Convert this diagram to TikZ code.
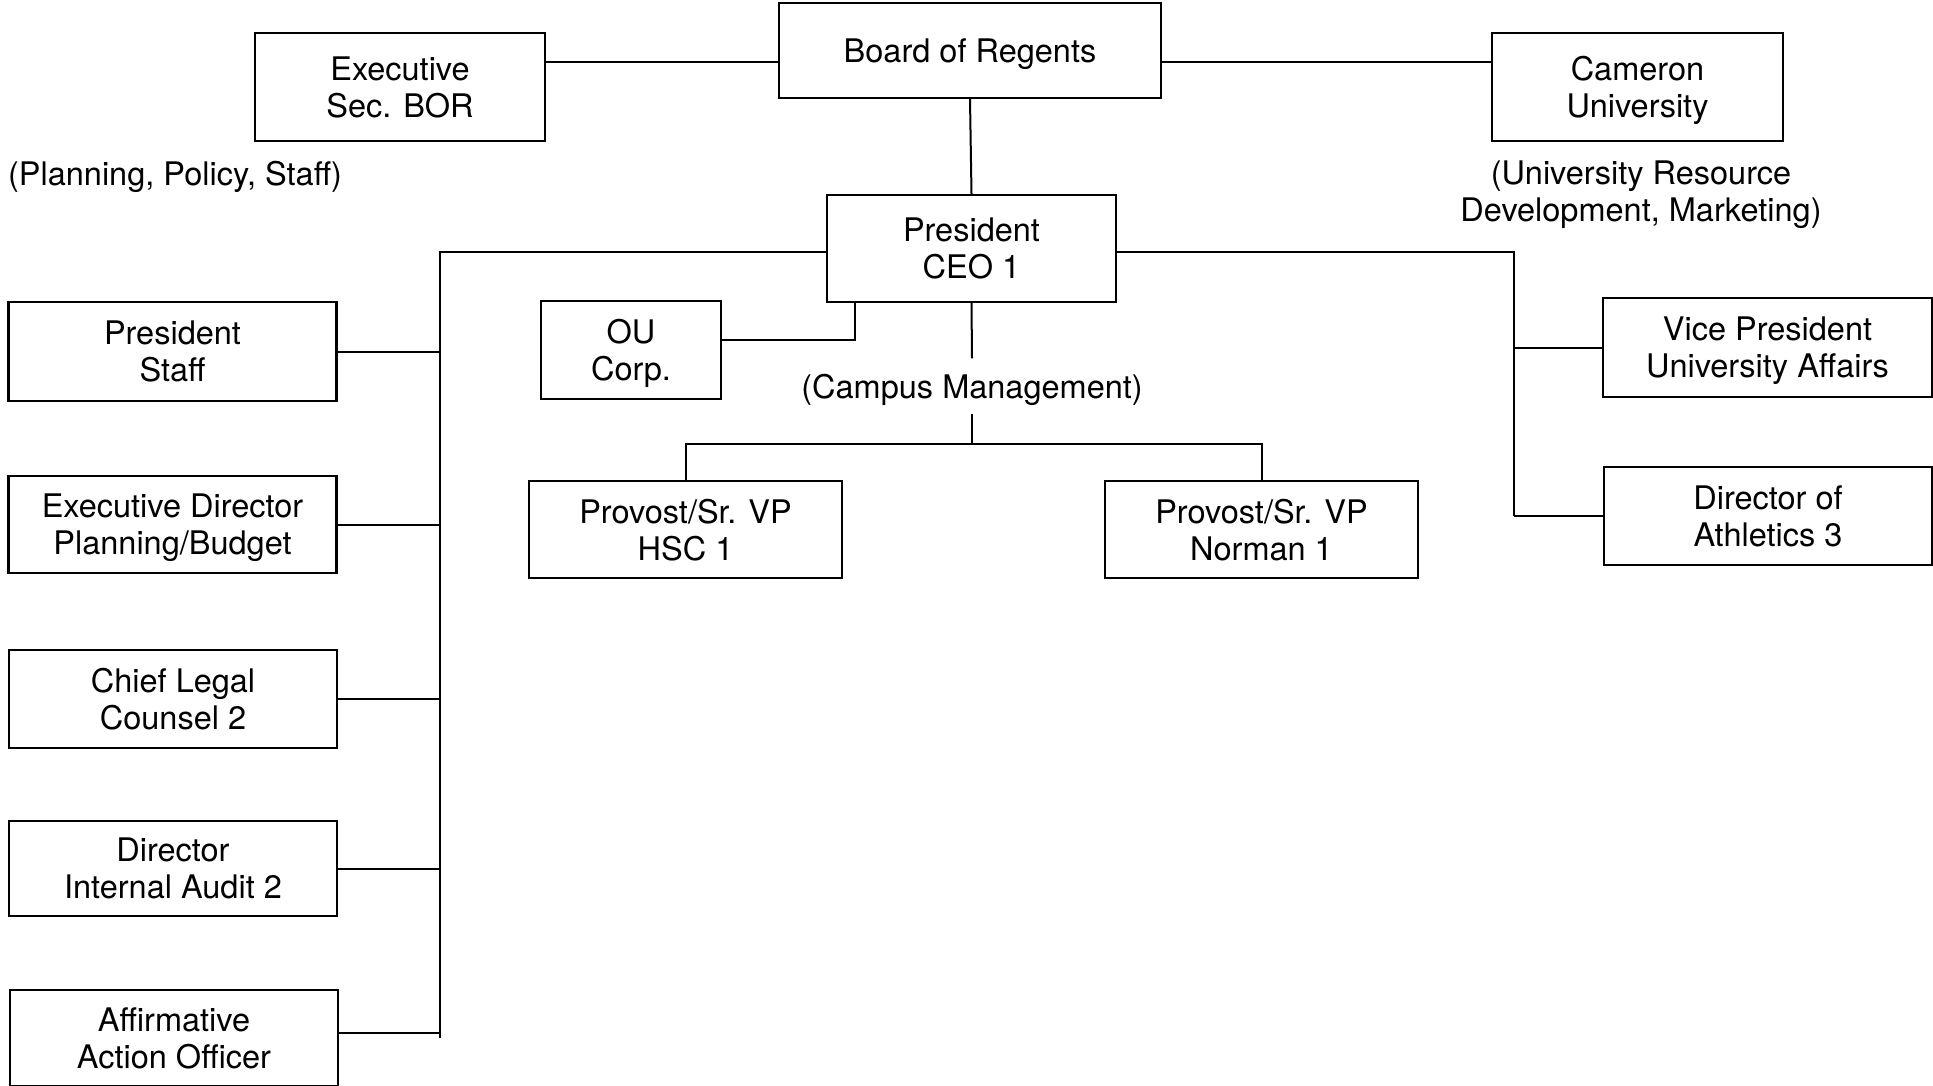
\documentclass[tikz,border=0pt]{standalone}
\usepackage{fontspec}
\setmainfont{TeX Gyre Heros}
\begin{document}
\begin{tikzpicture}[x=1pt,y=-1pt,
  orgbox/.style={draw, line width=2.2pt, inner sep=0pt, align=center, text depth=0pt, font=\fontsize{32.5}{37}\selectfont},
  lbl/.style={inner sep=0pt, align=center, text depth=0pt, font=\fontsize{32.5}{37}\selectfont},
  conn/.style={line width=2pt}]
\useasboundingbox (0,0) rectangle (1933,1086);
% top row
\node[orgbox, minimum width=382pt, minimum height=95pt] (bor) at (970,50.5) {Board of Regents};
\node[orgbox, minimum width=290pt, minimum height=108pt] (exec) at (400,87) {Executive\\Sec. BOR};
\node[orgbox, minimum width=291pt, minimum height=108pt] (cam) at (1637.5,87) {Cameron\\University};
\node[lbl] (plan) at (175,173) {(Planning, Policy, Staff)};
\node[lbl] (urd) at (1641,191) {(University Resource\\Development, Marketing)};
% president
\node[orgbox, minimum width=289pt, minimum height=107pt] (pres) at (971.5,248.5) {President\\CEO 1};
% left column
\node[orgbox, minimum width=328pt, minimum height=99pt] (ps) at (172.5,351.5) {President\\Staff};
\node[orgbox, minimum width=328pt, minimum height=97pt] (ed) at (172.5,524.5) {Executive Director\\Planning/Budget};
\node[orgbox, minimum width=328pt, minimum height=98pt] (cl) at (173,699) {Chief Legal\\Counsel 2};
\node[orgbox, minimum width=328pt, minimum height=95pt] (dia) at (173,868.5) {Director\\Internal Audit 2};
\node[orgbox, minimum width=328pt, minimum height=96pt] (aa) at (174,1038) {Affirmative\\Action Officer};
% middle
\node[orgbox, minimum width=180pt, minimum height=98pt] (ou) at (631,350) {OU\\Corp.};
\node[lbl, minimum height=55pt] (cm) at (972,386) {(Campus Management)};
\node[orgbox, minimum width=313pt, minimum height=97pt] (hsc) at (685.5,529.5) {Provost/Sr. VP\\HSC 1};
\node[orgbox, minimum width=313pt, minimum height=97pt] (nor) at (1261.5,529.5) {Provost/Sr. VP\\Norman 1};
% right column
\node[orgbox, minimum width=329pt, minimum height=99pt] (vp) at (1767.5,347.5) {Vice President\\University Affairs};
\node[orgbox, minimum width=328pt, minimum height=98pt] (ath) at (1768,516) {Director of\\Athletics 3};
% connectors
\coordinate (j1) at ([yshift=-30pt]exec.north east);
\draw[conn] (j1) -- (j1 -| bor.west);
\draw[conn] (j1 -| bor.east) -- (j1 -| cam.west);
\draw[conn] (bor.south) -- (pres.north);
\coordinate (busL) at (440,252);
\coordinate (busR) at (1514,252);
\draw[conn] (busL -| pres.west) -- (busL) -- (busL |- aa.east);
\draw[conn] (busR -| pres.east) -- (busR) -- (busR |- ath.west);
\draw[conn] (ps.east) -- (ps.east -| busL);
\draw[conn] (ed.east) -- (ed.east -| busL);
\draw[conn] (cl.east) -- (cl.east -| busL);
\draw[conn] (dia.east) -- (dia.east -| busL);
\coordinate (aaj) at ([yshift=5pt]aa.east);
\draw[conn] (aaj) -- (aaj -| busL);
\draw[conn] (vp.west) -- (vp.west -| busR);
\draw[conn] (ath.west) -- (ath.west -| busR);
\coordinate (ouj) at ([yshift=10pt]ou.east);
\coordinate (oub) at (855,340);
\draw[conn] (ouj) -- (oub) -- (oub |- pres.south);
\draw[conn] (pres.south) -- (cm.north);
\coordinate (jc) at (972,444);
\draw[conn] (cm.south) -- (jc);
\draw[conn] (hsc.north) -- (hsc.north |- jc) -- (nor.north |- jc) -- (nor.north);
\end{tikzpicture}
\end{document}
